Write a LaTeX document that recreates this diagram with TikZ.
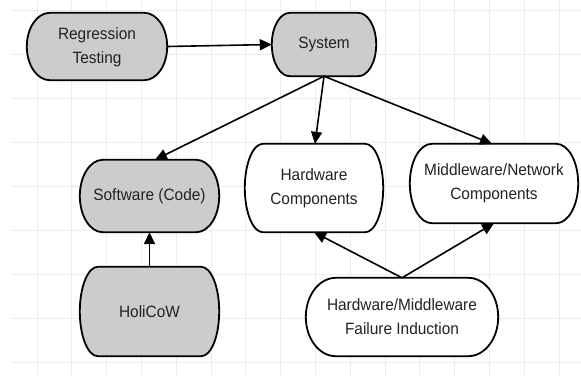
\documentclass[tikz,border=0pt]{standalone}
\usepackage{fontspec}
\setmainfont{Liberation Sans}[FakeStretch=0.94]
\usetikzlibrary{arrows.meta,calc,backgrounds}
\definecolor{boxgray}{HTML}{CCCCCC}
\definecolor{gridc}{HTML}{ECECEC}
\definecolor{txtc}{HTML}{222222}
\newcommand\pillshape[3]{%
  \path[pillline, fill=#3] let \p1=(#1.north west), \p2=(#1.south east) in
  (\x1+#2pt,\y1) -- (\x2-#2pt,\y1)
  arc[start angle=90,end angle=-90,x radius=#2pt,y radius={(\y1-\y2)/2}]
  -- (\x1+#2pt,\y2)
  arc[start angle=270,end angle=90,x radius=#2pt,y radius={(\y1-\y2)/2}]
  -- cycle;}
\tikzset{
  gridline/.style={draw=gridc, line width=0.8pt},
  pillline/.style={draw=black, line width=1.8pt},
  box/.style={inner sep=0pt, align=center, text=txtc,
    font=\fontsize{16.4}{24}\selectfont},
  conn/.style={draw=black, line width=1.6pt, -{Triangle[length=12pt,width=11pt]}}
}
\begin{document}
\begin{tikzpicture}[x=1pt,y=-1pt]
\useasboundingbox (0,0) rectangle (581,376);
\begin{pgfonlayer}{background}
\fill[white] (0,0) rectangle (581,376);
\foreach \k in {1,...,16} \draw[gridline] ({2.2+34.8*\k},0) -- ({2.2+34.8*\k},376);
\foreach \k in {0,...,8} \draw[gridline] (11,{10+44*\k}) -- (581,{10+44*\k});
\end{pgfonlayer}

\node[box, minimum width=140pt, minimum height=67pt] (rt) at (97,46.5) {\raisebox{5pt}{\begin{tabular}{@{}c@{}}Regression\\Testing\end{tabular}}};
\node[box, minimum width=104pt, minimum height=63pt] (sys) at (324,44.5) {System};
\node[box, minimum width=139pt, minimum height=72pt] (sw) at (149.5,196) {Software (Code)};
\node[box, minimum width=138pt, minimum height=88pt] (hw) at (314,188) {Hardware\\Components};
\node[box, minimum width=168pt, minimum height=79pt] (mw) at (494,183.5) {Middleware/Network\\Components};
\node[box, minimum width=139pt, minimum height=89pt] (hc) at (149.5,311.5) {HoliCoW};
\node[box, minimum width=192pt, minimum height=78pt] (fl) at (402,317) {Hardware/Middleware\\Failure Induction};

\begin{pgfonlayer}{background}
\pillshape{rt}{23}{boxgray}
\pillshape{sys}{18}{boxgray}
\pillshape{sw}{23}{boxgray}
\pillshape{hw}{18}{white}
\pillshape{mw}{22}{white}
\pillshape{hc}{18}{boxgray}
\pillshape{fl}{30}{white}
\end{pgfonlayer}

\draw[conn] (rt.east) -- (sys.west);
\draw[conn] (sys.south) -- ([xshift=5.5pt]sw.north);
\draw[conn] (sys.south) -- ([xshift=1pt]hw.north);
\draw[conn] (sys.south) -- ([xshift=-2pt]mw.north);
\draw[conn] (hc.north) -- (sw.south);
\draw[conn] (fl.north) -- (hw.south);
\draw[conn] (fl.north) -- (mw.south);
\end{tikzpicture}
\end{document}
